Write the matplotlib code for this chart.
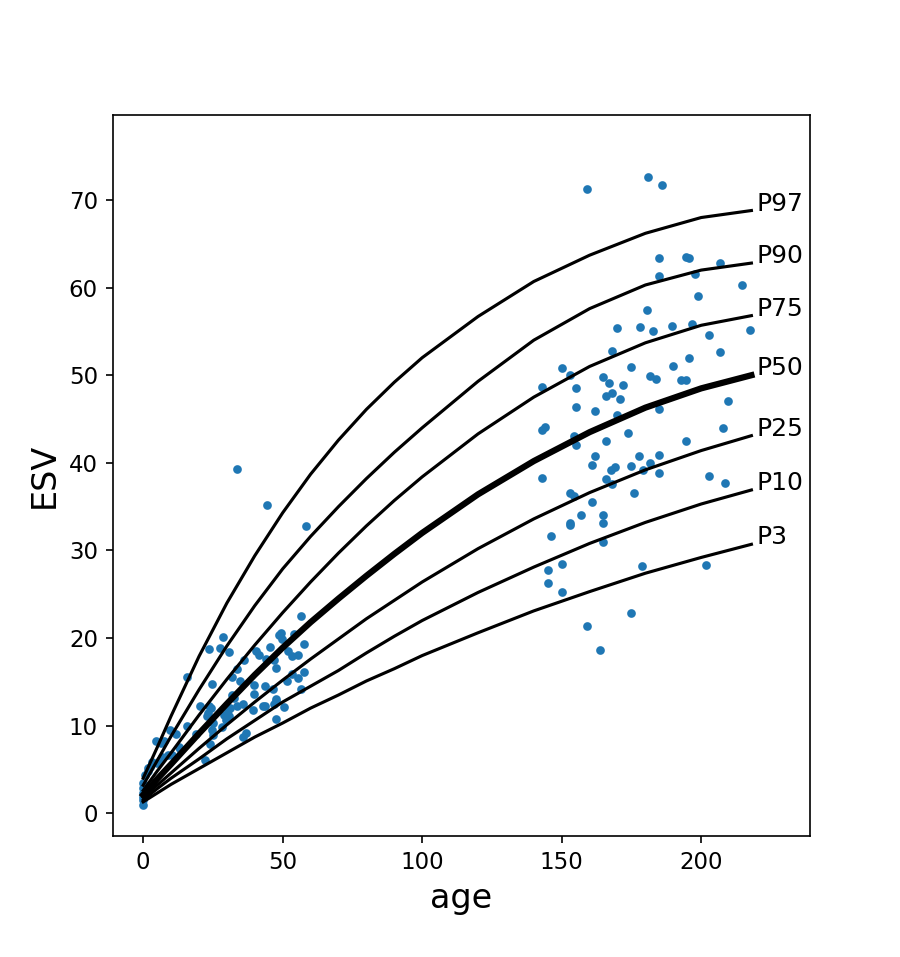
import matplotlib
matplotlib.use("Agg")
import matplotlib.pyplot as plt
import numpy as np

# observed points (age, ESV)
age = [56.5, 49.3, 48.6, 49.8, 28.7, 23.6, 27.7, 30.6, 54.0, 57.5,
       45.6, 40.3, 41.4, 51.9, 53.4, 55.4, 36.3, 43.9, 46.8, 47.5,
       15.7, 33.6, 31.8, 34.7, 24.8, 57.5, 53.4, 55.6, 51.6, 39.8,
       43.6, 46.6, 56.5, 39.7, 31.9, 32.7, 47.7, 20.5, 23.5, 24.2,
       23.3, 22.7, 33.8, 35.9, 30.5, 31.2, 39.5, 42.8, 43.7, 46.8,
       47.5, 50.5, 28.8, 30.7, 47.6, 29.6, 25.2, 15.7, 9.7, 11.9,
       18.9, 24.7, 25.1, 23.8, 36.8, 35.8, 28.2, 4.6, 6.5, 7.6,
       12.9, 13.1, 8.9, 10.3, 3.3, 1.7, 22.0, 6.6, 6.0, 4.8,
       2.4, 1.8, 0.6, 0.0, 0.0, 0.0, 0.0, 0.0, 0.0,
       33.5, 44.5, 58.5,
       159.0, 180.9, 185.9, 184.8, 194.6, 195.8, 206.7, 184.8, 197.7, 214.6,
       198.8, 180.7, 170.0, 177.9, 182.9, 189.7, 196.8, 217.5, 202.8, 167.9,
       206.7, 195.8, 150.1, 153.0, 174.9, 189.8, 143.0, 155.0, 164.9, 167.0,
       172.0, 181.8, 183.7, 192.7, 194.7, 166.0, 167.9, 170.9, 209.7, 155.0,
       161.9, 169.8, 184.8, 143.0, 144.0, 207.7, 154.5, 155.0, 166.0, 173.9,
       194.7, 161.9, 160.9, 177.7, 181.8, 184.8, 174.9, 179.1, 184.8, 167.7,
       169.0, 143.0, 166.0, 167.9, 202.8, 208.7, 153.0, 154.5, 175.8, 160.9,
       157.0, 164.9, 153.0, 153.0, 164.9, 146.0, 164.9, 145.1, 150.1, 178.8,
       201.8, 145.1, 150.1, 174.9, 159.1, 163.8]
esv = [22.5, 20.6, 20.3, 19.9, 20.1, 18.8, 18.9, 18.4, 20.5, 19.3,
       19.0, 18.5, 18.1, 18.5, 17.9, 18.1, 17.5, 17.6, 17.5, 16.6,
       15.5, 16.5, 15.6, 15.1, 14.7, 16.1, 15.9, 15.4, 15.1, 14.6,
       14.5, 14.2, 14.2, 13.6, 13.5, 13.1, 13.0, 12.3, 12.2, 12.0,
       11.5, 11.1, 12.2, 12.5, 11.8, 12.0, 11.8, 12.2, 12.2, 12.5,
       12.8, 12.1, 11.2, 11.1, 10.8, 10.6, 10.3, 10.0, 9.5, 9.1,
       9.1, 9.5, 8.9, 7.9, 9.2, 8.7, 9.8, 8.3, 8.0, 8.2,
       7.6, 7.3, 6.6, 6.6, 5.9, 5.2, 6.1, 6.4, 6.1, 5.7,
       5.3, 4.8, 4.4, 3.5, 2.9, 2.3, 1.9, 1.5, 0.9,
       39.3, 35.2, 32.8,
       71.2, 72.6, 71.7, 63.4, 63.5, 63.4, 62.8, 61.3, 61.5, 60.3,
       59.1, 57.4, 55.4, 55.5, 55.1, 55.6, 55.8, 55.2, 54.6, 52.8,
       52.7, 52.0, 50.8, 50.0, 50.9, 51.1, 48.6, 48.5, 49.8, 49.1,
       48.9, 49.9, 49.6, 49.4, 49.4, 47.6, 48.0, 47.3, 47.1, 46.4,
       45.9, 45.5, 46.2, 43.8, 44.1, 44.0, 43.1, 42.0, 42.5, 43.4,
       42.5, 40.8, 39.7, 40.8, 40.0, 40.9, 39.6, 39.2, 38.8, 39.2,
       39.5, 38.3, 38.1, 37.6, 38.5, 37.7, 36.6, 36.2, 36.6, 35.5,
       34.1, 34.1, 33.1, 32.9, 33.1, 31.7, 31.0, 27.8, 28.4, 28.2,
       28.3, 26.3, 25.3, 22.9, 21.4, 18.6]

# percentile curves
curve_age = [0, 5, 10, 20, 30, 40, 50, 60, 70, 80, 90, 100, 120, 140, 160, 180, 200, 218]
p3 = [1.3, 2.3, 3.3, 5.1, 6.9, 8.7, 10.3, 12.0, 13.5, 15.1, 16.5, 18.0, 20.6, 23.1, 25.3, 27.4, 29.2, 30.7]
p10 = [1.5, 2.8, 4.0, 6.2, 8.5, 10.6, 12.7, 14.5, 16.3, 18.3, 20.2, 22.0, 25.2, 28.1, 30.8, 33.2, 35.3, 36.9]
p25 = [1.8, 3.2, 4.6, 7.4, 10.1, 12.7, 15.2, 17.6, 19.9, 22.2, 24.3, 26.4, 30.2, 33.6, 36.6, 39.2, 41.4, 43.1]
p50 = [2.1, 3.9, 5.6, 9.1, 12.5, 15.8, 18.9, 21.8, 24.5, 27.1, 29.6, 32.0, 36.4, 40.2, 43.5, 46.3, 48.5, 50.0]
p75 = [2.6, 4.8, 6.9, 11.2, 15.3, 19.2, 22.9, 26.4, 29.7, 32.8, 35.7, 38.4, 43.3, 47.5, 51.0, 53.7, 55.7, 56.8]
p90 = [3.2, 6.0, 8.8, 14.1, 19.1, 23.7, 27.9, 31.6, 35.0, 38.2, 41.2, 44.0, 49.3, 54.0, 57.6, 60.3, 62.0, 62.8]
p97 = [4.0, 7.5, 11.1, 17.9, 24.0, 29.4, 34.3, 38.7, 42.6, 46.1, 49.2, 52.0, 56.7, 60.7, 63.7, 66.2, 68.0, 68.8]
curve_names = ['P3', 'P10', 'P25', 'P50', 'P75', 'P90', 'P97']
curves = [p3, p10, p25, p50, p75, p90, p97]

fig = plt.figure(figsize=(6, 6.38), dpi=150)
ax = fig.add_axes([0.125, 0.1264, 0.775, 0.7534])

ax.scatter(age, esv, s=10, color='#1f77b4', zorder=1)
for name, vals in zip(curve_names, curves):
    lw = 3 if name == 'P50' else 1.5
    ax.plot(curve_age, vals, color='black', lw=lw, zorder=2)
    ax.text(220, vals[-1], name, fontsize=12)

ax.set_xlim(-11, 239)
ax.set_ylim(-2.6, 79.7)
ax.set_xlabel('age', fontsize=16)
ax.set_ylabel('ESV', fontsize=16)
ax.tick_params(labelsize=11)

fig.savefig('out.png', dpi=150)
